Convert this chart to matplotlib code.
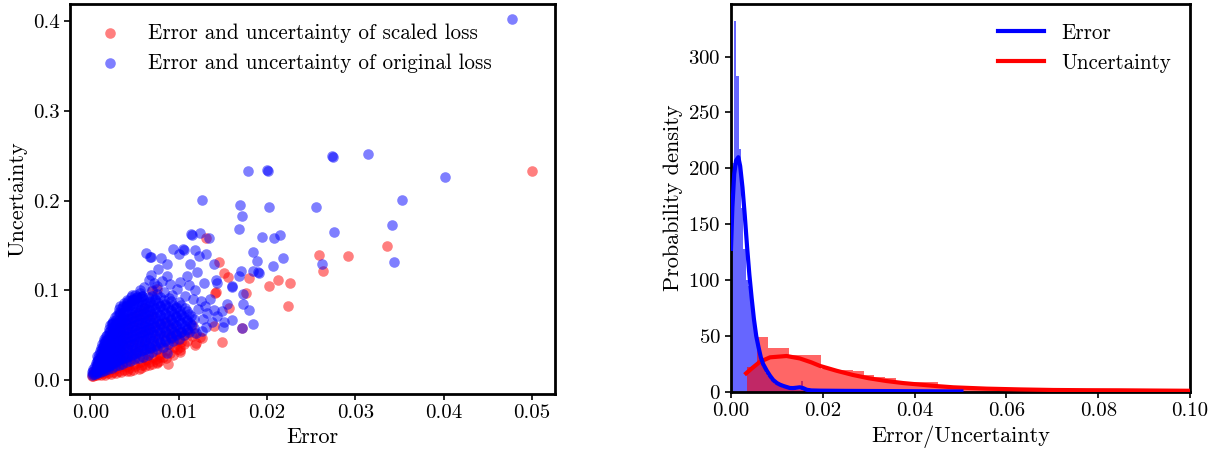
import matplotlib
matplotlib.use('Agg')
import matplotlib.pyplot as plt
from matplotlib.ticker import FormatStrFormatter
import numpy as np

# ---------------- data ----------------
scaled_label = 'Error and uncertainty of scaled loss'
original_label = 'Error and uncertainty of original loss'

# (error, uncertainty) of scaled loss (red)
red_points = [
    (0.0500, 0.233), (0.0336, 0.149), (0.0259, 0.139), (0.0292, 0.138), (0.0263, 0.121),
    (0.0226, 0.108), (0.0213, 0.111), (0.0202, 0.105), (0.0224, 0.083), (0.0180, 0.1136),
    (0.0176, 0.0968), (0.0131, 0.158), (0.0146, 0.132), (0.0151, 0.1196), (0.0156, 0.115),
    (0.0141, 0.097), (0.0142, 0.098), (0.0157, 0.080), (0.0149, 0.0418), (0.0172, 0.058),
    (0.0140, 0.0605), (0.0070, 0.099), (0.0075, 0.101),
    (0.0109, 0.054), (0.0115, 0.0486), (0.0119, 0.039), (0.0126, 0.0467), (0.0102, 0.0373),
    (0.0100, 0.0448), (0.0091, 0.0486), (0.0124, 0.0474), (0.0120, 0.041), (0.0109, 0.0437),
    (0.0101, 0.0317), (0.0088, 0.0176), (0.0075, 0.0187), (0.0117, 0.0523), (0.0115, 0.0617),
    (0.0002, 0.004), (0.0045, 0.0104), (0.0057, 0.013), (0.0066, 0.017), (0.0075, 0.0205),
    (0.0079, 0.026), (0.0064, 0.0224),
    (0.0003, 0.004), (0.0003, 0.007), (0.0004, 0.010),
    (0.0007, 0.005), (0.0008, 0.008), (0.0007, 0.012), (0.0008, 0.016),
    (0.0012, 0.005), (0.0013, 0.009), (0.0012, 0.014), (0.0011, 0.019), (0.0013, 0.024),
    (0.0017, 0.006), (0.0018, 0.010), (0.0016, 0.016), (0.0017, 0.022), (0.0018, 0.028), (0.0017, 0.034),
    (0.0023, 0.007), (0.0024, 0.012), (0.0022, 0.018), (0.0023, 0.025), (0.0024, 0.032), (0.0023, 0.040),
    (0.0029, 0.008), (0.0030, 0.013), (0.0028, 0.020), (0.0029, 0.028), (0.0030, 0.036), (0.0029, 0.045), (0.0028, 0.052),
    (0.0035, 0.009), (0.0036, 0.015), (0.0034, 0.023), (0.0035, 0.031), (0.0036, 0.040), (0.0035, 0.050), (0.0034, 0.058),
    (0.0041, 0.010), (0.0042, 0.016), (0.0040, 0.025), (0.0041, 0.034), (0.0042, 0.044), (0.0041, 0.054), (0.0040, 0.064),
    (0.0048, 0.011), (0.0049, 0.018), (0.0047, 0.027), (0.0048, 0.037), (0.0049, 0.048), (0.0048, 0.059), (0.0047, 0.070),
    (0.0055, 0.012), (0.0056, 0.020), (0.0054, 0.030), (0.0055, 0.041), (0.0056, 0.052), (0.0055, 0.063), (0.0054, 0.075),
    (0.0062, 0.015), (0.0063, 0.023), (0.0061, 0.033), (0.0062, 0.044), (0.0063, 0.056), (0.0062, 0.068), (0.0061, 0.080),
    (0.0070, 0.018), (0.0071, 0.026), (0.0069, 0.036), (0.0070, 0.047), (0.0071, 0.059), (0.0070, 0.071),
    (0.0078, 0.021), (0.0079, 0.029), (0.0077, 0.039), (0.0078, 0.050), (0.0079, 0.062),
    (0.0086, 0.024), (0.0087, 0.033), (0.0085, 0.043), (0.0086, 0.054), (0.0087, 0.065),
    (0.0094, 0.028), (0.0095, 0.037), (0.0093, 0.047), (0.0094, 0.058),
    (0.0102, 0.033), (0.0103, 0.042), (0.0101, 0.052),
    (0.0005, 0.006), (0.0005, 0.009), (0.0010, 0.007), (0.0010, 0.011), (0.0015, 0.008),
    (0.0015, 0.013), (0.0020, 0.008), (0.0020, 0.014), (0.0026, 0.009), (0.0026, 0.016),
    (0.0032, 0.010), (0.0032, 0.018), (0.0038, 0.011), (0.0038, 0.020), (0.0044, 0.013),
    (0.0044, 0.022), (0.0051, 0.015), (0.0051, 0.024), (0.0058, 0.017), (0.0058, 0.027),
    (0.0066, 0.020), (0.0066, 0.030), (0.0074, 0.023), (0.0074, 0.033), (0.0082, 0.026),
    (0.0082, 0.036), (0.0090, 0.030), (0.0090, 0.040), (0.0098, 0.035), (0.0098, 0.045),
    (0.0106, 0.040), (0.0106, 0.050),
]

# (error, uncertainty) of original loss (blue)
blue_points = [
    (0.0477, 0.403), (0.0314, 0.252), (0.0274, 0.250), (0.0275, 0.249), (0.0200, 0.234),
    (0.0201, 0.233), (0.0178, 0.233), (0.0402, 0.227), (0.0126, 0.201), (0.0353, 0.201),
    (0.0169, 0.195), (0.0202, 0.193), (0.0255, 0.193), (0.0172, 0.183), (0.0342, 0.173),
    (0.0168, 0.168), (0.0276, 0.165), (0.0114, 0.163), (0.0115, 0.162), (0.0124, 0.164),
    (0.0194, 0.160), (0.0215, 0.162), (0.0208, 0.158), (0.0134, 0.158), (0.0184, 0.143),
    (0.0105, 0.146), (0.0106, 0.145), (0.0094, 0.146), (0.0118, 0.145), (0.0063, 0.142),
    (0.0068, 0.1375), (0.0069, 0.137), (0.0080, 0.1356), (0.0100, 0.141), (0.0131, 0.140),
    (0.0123, 0.138), (0.0218, 0.1356), (0.0189, 0.1326), (0.0262, 0.129), (0.0344, 0.132),
    (0.0207, 0.127), (0.0140, 0.1297), (0.0087, 0.1297), (0.0113, 0.129), (0.0077, 0.124),
    (0.0171, 0.122), (0.0190, 0.120), (0.0191, 0.119), (0.0184, 0.121), (0.0168, 0.116),
    (0.0069, 0.1166), (0.0087, 0.116), (0.0109, 0.116), (0.0121, 0.120), (0.0142, 0.112),
    (0.0160, 0.104), (0.0129, 0.108), (0.0173, 0.096), (0.0076, 0.1046), (0.0098, 0.101),
    (0.0119, 0.0998), (0.0136, 0.0905), (0.0173, 0.085), (0.0180, 0.0777), (0.0149, 0.0766),
    (0.0155, 0.085), (0.0143, 0.071), (0.0160, 0.0665), (0.0184, 0.0624), (0.0150, 0.0586),
    (0.0132, 0.0747), (0.0026, 0.0635), (0.0036, 0.068), (0.0050, 0.0897), (0.0058, 0.0934),
    (0.0042, 0.084), (0.0087, 0.030), (0.0140, 0.078), (0.0151, 0.065), (0.0172, 0.058),
    (0.0143, 0.108), (0.0160, 0.1046),
    (0.0066, 0.112), (0.0072, 0.108), (0.0081, 0.110), (0.0090, 0.107), (0.0102, 0.109),
    (0.0112, 0.106), (0.0070, 0.100), (0.0083, 0.098), (0.0093, 0.095), (0.0107, 0.094),
    (0.0116, 0.090), (0.0125, 0.088), (0.0122, 0.079), (0.0130, 0.083), (0.0127, 0.068),
    (0.0138, 0.065), (0.0131, 0.059), (0.0061, 0.104), (0.0056, 0.100), (0.0047, 0.095),
    (0.0126, 0.055), (0.0120, 0.052),
    (0.0002, 0.005), (0.0002, 0.009), (0.0003, 0.012),
    (0.0005, 0.007), (0.0006, 0.011), (0.0005, 0.015), (0.0006, 0.019),
    (0.0008, 0.008), (0.0009, 0.012), (0.0008, 0.017), (0.0009, 0.022), (0.0008, 0.027),
    (0.0011, 0.009), (0.0012, 0.014), (0.0011, 0.020), (0.0012, 0.026), (0.0011, 0.032),
    (0.0014, 0.010), (0.0015, 0.016), (0.0014, 0.023), (0.0015, 0.030), (0.0014, 0.037), (0.0015, 0.043),
    (0.0017, 0.011), (0.0018, 0.018), (0.0017, 0.026), (0.0018, 0.034), (0.0017, 0.042), (0.0018, 0.049),
    (0.0020, 0.012), (0.0021, 0.020), (0.0020, 0.028), (0.0021, 0.037), (0.0020, 0.046), (0.0021, 0.054),
    (0.0024, 0.013), (0.0025, 0.022), (0.0024, 0.031), (0.0025, 0.040), (0.0024, 0.050), (0.0025, 0.059), (0.0024, 0.064),
    (0.0028, 0.015), (0.0029, 0.025), (0.0028, 0.034), (0.0029, 0.044), (0.0028, 0.054), (0.0029, 0.063), (0.0028, 0.070),
    (0.0032, 0.017), (0.0033, 0.027), (0.0032, 0.037), (0.0033, 0.047), (0.0032, 0.057), (0.0033, 0.067), (0.0032, 0.076),
    (0.0036, 0.018), (0.0037, 0.029), (0.0036, 0.040), (0.0037, 0.050), (0.0036, 0.060), (0.0037, 0.070), (0.0036, 0.080),
    (0.0040, 0.020), (0.0041, 0.031), (0.0040, 0.042), (0.0041, 0.052), (0.0040, 0.062), (0.0041, 0.072), (0.0040, 0.082), (0.0041, 0.089),
    (0.0045, 0.021), (0.0046, 0.033), (0.0045, 0.044), (0.0046, 0.054), (0.0045, 0.064), (0.0046, 0.074), (0.0045, 0.084), (0.0046, 0.092),
    (0.0050, 0.023), (0.0051, 0.035), (0.0050, 0.046), (0.0051, 0.056), (0.0050, 0.066), (0.0051, 0.076), (0.0050, 0.086), (0.0051, 0.095),
    (0.0055, 0.025), (0.0056, 0.037), (0.0055, 0.048), (0.0056, 0.058), (0.0055, 0.068), (0.0056, 0.078), (0.0055, 0.088), (0.0056, 0.097),
    (0.0060, 0.026), (0.0061, 0.039), (0.0060, 0.050), (0.0061, 0.060), (0.0060, 0.070), (0.0061, 0.080), (0.0060, 0.090),
    (0.0065, 0.028), (0.0066, 0.041), (0.0065, 0.052), (0.0066, 0.062), (0.0065, 0.072), (0.0066, 0.082), (0.0065, 0.092),
    (0.0070, 0.031), (0.0071, 0.043), (0.0070, 0.054), (0.0071, 0.064), (0.0070, 0.074), (0.0071, 0.084), (0.0070, 0.094),
    (0.0076, 0.034), (0.0077, 0.046), (0.0076, 0.056), (0.0077, 0.066), (0.0076, 0.076), (0.0077, 0.086), (0.0076, 0.096),
    (0.0082, 0.037), (0.0083, 0.049), (0.0082, 0.059), (0.0083, 0.069), (0.0082, 0.079), (0.0083, 0.089),
    (0.0088, 0.040), (0.0089, 0.051), (0.0088, 0.061), (0.0089, 0.071), (0.0088, 0.081), (0.0089, 0.091),
    (0.0094, 0.043), (0.0095, 0.054), (0.0094, 0.064), (0.0095, 0.074), (0.0094, 0.084),
    (0.0100, 0.046), (0.0101, 0.057), (0.0100, 0.067), (0.0101, 0.077), (0.0100, 0.087),
    (0.0106, 0.050), (0.0107, 0.060), (0.0106, 0.070), (0.0107, 0.080),
    (0.0112, 0.054), (0.0113, 0.064), (0.0112, 0.074),
    (0.0117, 0.058), (0.0117, 0.068),
    (0.0003, 0.007), (0.0003, 0.010),
    (0.0007, 0.009), (0.0007, 0.013), (0.0007, 0.017), (0.0007, 0.021),
    (0.0010, 0.011), (0.0010, 0.017), (0.0010, 0.023), (0.0010, 0.029),
    (0.0013, 0.013), (0.0013, 0.020), (0.0013, 0.027), (0.0013, 0.034), (0.0013, 0.040),
    (0.0016, 0.014), (0.0016, 0.022), (0.0016, 0.030), (0.0016, 0.038), (0.0016, 0.046),
    (0.0019, 0.016), (0.0019, 0.024), (0.0019, 0.033), (0.0019, 0.042), (0.0019, 0.050),
    (0.0022, 0.017), (0.0022, 0.026), (0.0022, 0.035), (0.0022, 0.045), (0.0022, 0.055), (0.0022, 0.061),
    (0.0026, 0.019), (0.0026, 0.028), (0.0026, 0.038), (0.0026, 0.048), (0.0026, 0.058), (0.0026, 0.066),
    (0.0030, 0.021), (0.0030, 0.031), (0.0030, 0.041), (0.0030, 0.051), (0.0030, 0.061), (0.0030, 0.072),
    (0.0034, 0.023), (0.0034, 0.033), (0.0034, 0.044), (0.0034, 0.054), (0.0034, 0.064), (0.0034, 0.075), (0.0034, 0.082),
    (0.0038, 0.025), (0.0038, 0.036), (0.0038, 0.046), (0.0038, 0.056), (0.0038, 0.066), (0.0038, 0.076), (0.0038, 0.086),
    (0.0043, 0.027), (0.0043, 0.038), (0.0043, 0.048), (0.0043, 0.058), (0.0043, 0.068), (0.0043, 0.078), (0.0043, 0.088),
    (0.0048, 0.029), (0.0048, 0.040), (0.0048, 0.050), (0.0048, 0.060), (0.0048, 0.070), (0.0048, 0.080), (0.0048, 0.090),
    (0.0053, 0.031), (0.0053, 0.042), (0.0053, 0.052), (0.0053, 0.062), (0.0053, 0.072), (0.0053, 0.082), (0.0053, 0.092),
    (0.0058, 0.033), (0.0058, 0.044), (0.0058, 0.054), (0.0058, 0.064), (0.0058, 0.074), (0.0058, 0.084), (0.0058, 0.094),
    (0.0063, 0.035), (0.0063, 0.046), (0.0063, 0.056), (0.0063, 0.066), (0.0063, 0.076), (0.0063, 0.086),
    (0.0068, 0.037), (0.0068, 0.048), (0.0068, 0.058), (0.0068, 0.068), (0.0068, 0.078), (0.0068, 0.088),
    (0.0073, 0.039), (0.0073, 0.050), (0.0073, 0.060), (0.0073, 0.070), (0.0073, 0.080), (0.0073, 0.090),
    (0.0079, 0.042), (0.0079, 0.053), (0.0079, 0.063), (0.0079, 0.073), (0.0079, 0.083), (0.0079, 0.093),
    (0.0085, 0.045), (0.0085, 0.055), (0.0085, 0.065), (0.0085, 0.075), (0.0085, 0.085),
    (0.0091, 0.048), (0.0091, 0.058), (0.0091, 0.068), (0.0091, 0.078), (0.0091, 0.088),
    (0.0097, 0.051), (0.0097, 0.061), (0.0097, 0.071), (0.0097, 0.081),
    (0.0103, 0.054), (0.0103, 0.064), (0.0103, 0.074), (0.0103, 0.084),
    (0.0109, 0.057), (0.0109, 0.067), (0.0109, 0.077),
    (0.0114, 0.061), (0.0114, 0.071),
    (0.0009, 0.010), (0.0009, 0.015), (0.0009, 0.020), (0.0009, 0.025),
    (0.0012, 0.012), (0.0012, 0.018), (0.0012, 0.024), (0.0012, 0.030), (0.0012, 0.036),
    (0.0015, 0.013), (0.0015, 0.020), (0.0015, 0.027), (0.0015, 0.034), (0.0015, 0.040),
    (0.0018, 0.015), (0.0018, 0.022), (0.0018, 0.030), (0.0018, 0.038), (0.0018, 0.045),
    (0.0021, 0.016), (0.0021, 0.024), (0.0021, 0.033), (0.0021, 0.041), (0.0021, 0.050), (0.0021, 0.057),
    (0.0025, 0.018), (0.0025, 0.027), (0.0025, 0.036), (0.0025, 0.045), (0.0025, 0.054), (0.0025, 0.062),
    (0.0029, 0.020), (0.0029, 0.030), (0.0029, 0.039), (0.0029, 0.049), (0.0029, 0.058), (0.0029, 0.067),
    (0.0033, 0.022), (0.0033, 0.032), (0.0033, 0.042), (0.0033, 0.052), (0.0033, 0.062), (0.0033, 0.072), (0.0033, 0.079),
    (0.0037, 0.024), (0.0037, 0.034), (0.0037, 0.045), (0.0037, 0.055), (0.0037, 0.065), (0.0037, 0.075), (0.0037, 0.083),
    (0.0042, 0.026), (0.0042, 0.036), (0.0042, 0.047), (0.0042, 0.057), (0.0042, 0.067), (0.0042, 0.077), (0.0042, 0.086),
    (0.0047, 0.028), (0.0047, 0.039), (0.0047, 0.049), (0.0047, 0.059), (0.0047, 0.069), (0.0047, 0.079), (0.0047, 0.089),
    (0.0052, 0.030), (0.0052, 0.041), (0.0052, 0.051), (0.0052, 0.061), (0.0052, 0.071), (0.0052, 0.081), (0.0052, 0.091),
    (0.0057, 0.032), (0.0057, 0.043), (0.0057, 0.053), (0.0057, 0.063), (0.0057, 0.073), (0.0057, 0.083), (0.0057, 0.093),
    (0.0062, 0.034), (0.0062, 0.045), (0.0062, 0.055), (0.0062, 0.065), (0.0062, 0.075), (0.0062, 0.085),
    (0.0067, 0.036), (0.0067, 0.047), (0.0067, 0.057), (0.0067, 0.067), (0.0067, 0.077), (0.0067, 0.087),
    (0.0073, 0.038), (0.0073, 0.049), (0.0073, 0.059), (0.0073, 0.069), (0.0073, 0.079), (0.0073, 0.089),
    (0.0079, 0.041), (0.0079, 0.052), (0.0079, 0.062), (0.0079, 0.072), (0.0079, 0.082),
    (0.0085, 0.044), (0.0085, 0.054), (0.0085, 0.064), (0.0085, 0.074), (0.0085, 0.084),
    (0.0091, 0.047), (0.0091, 0.057), (0.0091, 0.067), (0.0091, 0.077),
    (0.0097, 0.050), (0.0097, 0.060), (0.0097, 0.070), (0.0097, 0.080),
    (0.0103, 0.053), (0.0103, 0.063), (0.0103, 0.073),
    (0.0109, 0.056), (0.0109, 0.066),
]

# histogram of error (blue): first bin edge, bin width, bar heights
error_bin_start = 0.0001
error_bin_width = 0.00052
error_heights = [
    205, 332, 283, 217, 165, 128, 100, 95, 82, 73,
    47, 36, 27, 22, 17, 14, 11, 9, 7, 6,
    5, 4, 4, 3, 3, 2, 3, 2, 2, 10,
    2, 1.5, 1.5, 2, 1, 1, 1.2, 0.8, 1, 1,
    0.8, 0.6, 1, 0.8, 0.5, 0.8, 0.6, 0.5, 0.7, 0.5,
    0.5, 0.4, 0.6, 0.4, 0.5, 0.3, 0.5, 0.4, 0.3, 0.4,
    0.3, 0.4, 0.3, 0.3, 0.4, 0.3, 0.2, 0.3, 0.3, 0.2,
    0.3, 0.2, 0.2, 0.3, 0.2, 0.2, 0.2, 0.3, 0.2, 0.2,
    0.2, 0.2, 0.1, 0.2, 0.2, 0.1, 0.2, 0.1, 0.1, 0.2,
    0.1, 0.1, 0.1, 0.1, 0.1, 0.1,
]

# histogram of uncertainty (red)
unc_bin_start = 0.0034
unc_bin_width = 0.00232
unc_heights = [
    22, 49, 39, 39, 33, 33, 33, 21, 20, 20,
    19, 15, 13, 12.5, 9, 9, 9, 9, 5, 5,
    2.5, 2.5, 2.2, 2, 2, 1.8, 1.7, 1.6, 1.5, 1.5,
    1.4, 1.3, 1.2, 1.2, 1.1, 1, 1, 1, 0.9, 0.9, 0.8, 0.8,
]

# density curves (x, density)
error_kde_x = [0.0, 0.0003, 0.0007, 0.0011, 0.0016, 0.0020, 0.0025, 0.0030, 0.0035, 0.0040,
               0.0045, 0.0050, 0.0055, 0.0060, 0.0065, 0.0070, 0.0078, 0.0085, 0.0092, 0.0100,
               0.0107, 0.0114, 0.0121, 0.0128, 0.0135, 0.0142, 0.0150, 0.0157, 0.0165, 0.0175,
               0.0194, 0.0250, 0.0300, 0.0350, 0.0400, 0.0450, 0.0502]
error_kde_y = [128, 165, 195, 207, 210, 202, 183, 158, 130, 105,
               84, 65, 50, 40, 31, 25, 19, 14.5, 10.7, 8,
               6.5, 5.4, 4.5, 3.6, 3.5, 3.8, 4.2, 3.5, 2.0, 1.4,
               1.2, 1.0, 0.9, 0.8, 0.7, 0.6, 0.5]
unc_kde_x = [0.0033, 0.0045, 0.0063, 0.0085, 0.0121, 0.0150, 0.0175, 0.0194, 0.0230, 0.0266,
             0.0300, 0.0339, 0.0375, 0.0412, 0.0448, 0.0484, 0.0557, 0.0630, 0.0702, 0.0775,
             0.0847, 0.0920, 0.1000, 0.1050]
unc_kde_y = [16.7, 21, 27, 31, 32.2, 30, 26.5, 23.3, 19, 15.2,
             12.3, 9.8, 8, 6.6, 5.3, 4.2, 3.0, 2.3, 1.8, 1.6,
             1.5, 1.3, 1.1, 1.0]

# ---------------- style ----------------
plt.rcParams['font.family'] = ['cmr10', 'DejaVu Serif']
plt.rcParams['axes.formatter.use_mathtext'] = True
plt.rcParams['mathtext.fontset'] = 'cm'
plt.rcParams['font.size'] = 15.2

fig = plt.figure(figsize=(12.22, 4.5), dpi=100)
W, H = 1222.0, 450.0
ax1 = fig.add_axes([70 / W, 1 - 394 / H, 485 / W, 390 / H])
ax2 = fig.add_axes([731 / W, 1 - 392 / H, 459 / W, 388 / H])

# ---------------- left: scatter ----------------
rx, ry = zip(*red_points)
bx, by = zip(*blue_points)
ax1.scatter(rx, ry, s=58, color='red', alpha=0.5, linewidths=0, label=scaled_label)
ax1.scatter(bx, by, s=58, color='blue', alpha=0.5, linewidths=0, label=original_label)
ax1.set_xlim(-0.0023, 0.0526)
ax1.set_ylim(-0.0157, 0.4195)
ax1.set_xticks([0.0, 0.01, 0.02, 0.03, 0.04, 0.05])
ax1.set_yticks([0.0, 0.1, 0.2, 0.3, 0.4])
ax1.xaxis.set_major_formatter(FormatStrFormatter('%.2f'))
ax1.yaxis.set_major_formatter(FormatStrFormatter('%.1f'))
ax1.set_xlabel('Error', fontsize=16)
ax1.set_ylabel('Uncertainty', fontsize=16)
ax1.legend(loc='upper left', frameon=False, borderaxespad=0.5)

# ---------------- right: histograms + densities ----------------
err_edges = error_bin_start + error_bin_width * np.arange(len(error_heights) + 1)
unc_edges = unc_bin_start + unc_bin_width * np.arange(len(unc_heights) + 1)
ax2.stairs(error_heights, err_edges, fill=True, color='blue', alpha=0.6, linewidth=0, zorder=1)
ax2.stairs(unc_heights, unc_edges, fill=True, color='red', alpha=0.6, linewidth=0, zorder=1)
ax2.plot(unc_kde_x, unc_kde_y, color='red', lw=3, label='Uncertainty', zorder=3)
ax2.plot(error_kde_x, error_kde_y, color='blue', lw=3, label='Error', zorder=4)
ax2.set_xlim(0, 0.1)
ax2.set_ylim(0, 347)
ax2.set_xticks([0.0, 0.02, 0.04, 0.06, 0.08, 0.10])
ax2.set_yticks([0, 50, 100, 150, 200, 250, 300])
ax2.xaxis.set_major_formatter(FormatStrFormatter('%.2f'))
ax2.set_xlabel('Error/Uncertainty', fontsize=16)
ax2.set_ylabel('Probability density', fontsize=16)
h, l = ax2.get_legend_handles_labels()
ax2.legend(h[::-1], l[::-1], loc='upper right', frameon=False, handlelength=2.2)

for ax in (ax1, ax2):
    for sp in ax.spines.values():
        sp.set_linewidth(2)
    ax.tick_params(direction='out', length=4, width=1.2, labelsize=15)

fig.savefig('out.png', dpi=100)
